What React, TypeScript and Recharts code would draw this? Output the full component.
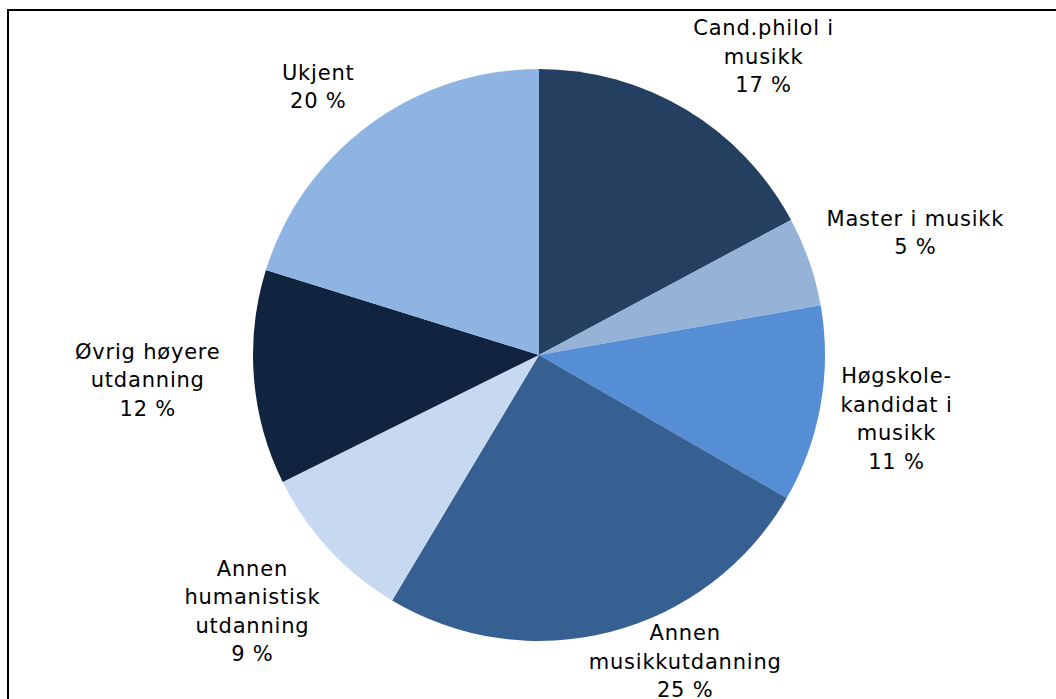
import { PieChart, Pie, Cell } from "recharts";

// utdanningsbakgrunn, andel i prosent
const categories = [
  "Cand.philol i musikk",
  "Master i musikk",
  "Høgskolekandidat i musikk",
  "Annen musikkutdanning",
  "Annen humanistisk utdanning",
  "Øvrig høyere utdanning",
  "Ukjent",
];
const shares = [17, 5, 11, 25, 9, 12, 20];
// label text as it is broken in the figure
const labelLines = [
  ["Cand.philol i", "musikk"],
  ["Master i musikk"],
  ["Høgskole-", "kandidat i", "musikk"],
  ["Annen", "musikkutdanning"],
  ["Annen", "humanistisk", "utdanning"],
  ["Øvrig høyere", "utdanning"],
  ["Ukjent"],
];
const colors = ["#243F60", "#95B3D7", "#558ED5", "#376092", "#C6D9F1", "#10243F", "#8EB4E3"];

// label placement: distance from centre and angle shift (deg)
const labelPlace = [
  { r: 374, shift: -6 },
  { r: 396, shift: -1 },
  { r: 363, shift: 0 },
  { r: 339, shift: 11 },
  { r: 384, shift: -1 },
  { r: 392, shift: -1 },
  { r: 348, shift: 3 },
];

const data = categories.map((name, i) => ({ name, value: shares[i] }));

const RAD = Math.PI / 180;
const LINE_H = 28.5;

function renderLabel(props: any) {
  const { cx, cy, midAngle, index } = props;
  const place = labelPlace[index];
  const a = (midAngle + place.shift) * RAD;
  const x = cx + place.r * Math.cos(a);
  const y = cy - place.r * Math.sin(a) + 1;
  const lines = [...labelLines[index], `${shares[index]} %`];
  const top = y - ((lines.length - 1) * LINE_H) / 2;
  return (
    <text
      x={x}
      y={top}
      textAnchor="middle"
      dominantBaseline="central"
      fill="#000"
      fontSize={21}
      letterSpacing={0.8}
      fontFamily="'DejaVu Sans', Verdana, sans-serif"
    >
      {lines.map((l, k) => (
        <tspan key={k} x={x} y={top + k * LINE_H} dominantBaseline="central">
          {l}
        </tspan>
      ))}
    </text>
  );
}

export default function App() {
  return (
    <div style={{ position: "absolute", left: 0, top: 0, width: 1056, height: 699, background: "#fff", overflow: "hidden" }}>
      <div
        style={{
          position: "absolute",
          left: 7,
          top: 9,
          width: 1060,
          height: 700,
          borderLeft: "2px solid #000",
          borderTop: "2px solid #000",
        }}
      />
      <div style={{ position: "absolute", left: 0, top: 0 }}>
        <PieChart width={1056} height={699} margin={{ top: 0, right: 0, bottom: 0, left: 0 }}>
          <Pie
            data={data}
            dataKey="value"
            nameKey="name"
            cx={539}
            cy={355}
            outerRadius={286}
            startAngle={90}
            endAngle={-270}
            stroke="none"
            labelLine={false}
            label={renderLabel}
            isAnimationActive={false}
          >
            {data.map((d, i) => (
              <Cell key={d.name} fill={colors[i]} />
            ))}
          </Pie>
        </PieChart>
      </div>
    </div>
  );
}
